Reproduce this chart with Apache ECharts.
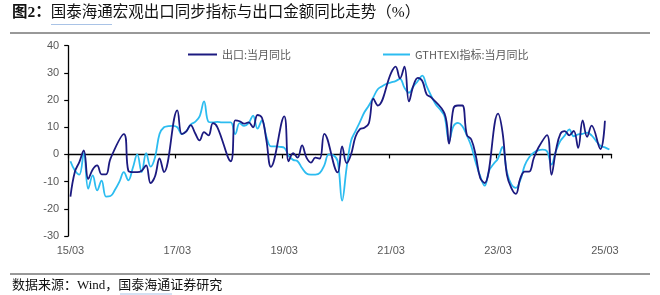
<!DOCTYPE html>
<html><head><meta charset="utf-8">
<script src="https://cdn.jsdelivr.net/npm/echarts@6/dist/echarts.min.js"></script>
<style>html,body{margin:0;padding:0;background:#fff}#c{width:660px;height:295px}</style>
</head><body><div id="c"></div>
<script>
// ---- categories (monthly, 2015-03 .. 2025-04) ----
const categories = [
 '15/03','15/04','15/05','15/06','15/07','15/08','15/09','15/10','15/11','15/12',
 '16/01','16/02','16/03','16/04','16/05','16/06','16/07','16/08','16/09','16/10','16/11','16/12',
 '17/01','17/02','17/03','17/04','17/05','17/06','17/07','17/08','17/09','17/10','17/11','17/12',
 '18/01','18/02','18/03','18/04','18/05','18/06','18/07','18/08','18/09','18/10','18/11','18/12',
 '19/01','19/02','19/03','19/04','19/05','19/06','19/07','19/08','19/09','19/10','19/11','19/12',
 '20/01','20/02','20/03','20/04','20/05','20/06','20/07','20/08','20/09','20/10','20/11','20/12',
 '21/01','21/02','21/03','21/04','21/05','21/06','21/07','21/08','21/09','21/10','21/11','21/12',
 '22/01','22/02','22/03','22/04','22/05','22/06','22/07','22/08','22/09','22/10','22/11','22/12',
 '23/01','23/02','23/03','23/04','23/05','23/06','23/07','23/08','23/09','23/10','23/11','23/12',
 '24/01','24/02','24/03','24/04','24/05','24/06','24/07','24/08','24/09','24/10','24/11','24/12',
 '25/01','25/02','25/03','25/04'
];
// ---- 出口:当月同比 (%) ----
const exportYoY = [
 -15.5,-6.4,-2.8,1.5,-9,-5.5,-4,-7.3,-7.3,-1.5,
 null,null,7.5,-6,-6.5,-6.5,-6,-4,-10.5,-8,-1.5,-6.5,
 null,null,16.2,7.5,8.5,10.8,7.8,5.2,8.2,7,11.5,10,
 null,null,-2.5,12.5,12.2,11.3,11.8,10,14.5,13.5,5.2,-4.6,
 null,null,14,-2.5,0.5,-1.2,3.3,-1.2,-3,-1.2,-1.5,7.6,
 null,null,-6.6,3,-3.2,0,6.5,9.3,9.8,11.5,20.5,18,
 null,null,30,32.3,28,32.3,19.5,25.3,28.2,27,22,21,
 null,null,15,4,17,18,18,7.2,5.5,-0.4,-8.7,-10.5,
 null,null,15,8.3,-7.5,-12.4,-14.5,-8.8,-6.3,-6.3,-1.5,2.3,
 null,7.1,-7.5,1.5,7.6,8.6,7,8.7,2.4,12.5,6.5,10.6,
 null,2,12.4,null
];
// ---- GTHTEXI指标:当月同比 (%) ----
const gthtexi = [
 -2.5,-5.9,-7.4,0.5,-12.6,-7.7,-13.2,-9.6,-15.5,-15.3,
 -13,-10,-6.5,-9.5,-5,0,-6.5,0.5,-4.5,-1,7.5,10,
 10.4,10.5,10,7.5,8.5,11,12,14,19.5,12,11.8,12,
 11.8,11.8,11.8,7.5,11.5,10.5,11.5,14.3,9.5,12.5,6.5,3,
 3,2.8,2.5,-0.5,-2,-2.5,-5,-7,-7.4,-7.4,-6.8,-4,
 0,-0.3,-2.5,-17,-5,5,8.6,12,15.5,18,21,24,
 25.1,26,26.5,27,27.8,24.5,22.7,25,27,29,25,21.5,
 18.5,16.5,14,5,10.4,11.6,10.4,7,3,-3,-8,-11.5,
 -6,-3.5,-1.5,2.8,-6.5,-11,-12.3,-9.5,-4,-1,0.6,1.5,
 1.8,1.2,-3.7,1.2,5,7,9.2,6.7,7.4,7.6,8,7,
 5,3.2,2.6,1.8
];
const seriesNames = ['出口:当月同比','GTHTEXI指标:当月同比'];
const yMin = -30, yMax = 40, yStep = 10;
const xLabelEvery = 24; // 15/03, 17/03, ... 25/03

const chart = echarts.init(document.getElementById('c'), null, {renderer:'canvas'});
const sansLatin = '"Liberation Sans", Arial, "Noto Sans CJK SC", sans-serif';
const serifMix = '"Liberation Serif", "Times New Roman", "Noto Sans CJK SC", serif';
const legendText = {fontSize:11, color:'#595959', fontFamily:'"Noto Sans CJK SC", "Liberation Sans", sans-serif'};
chart.setOption({
  animation:false,
  backgroundColor:'#fff',
  grid:{left:68.2, top:45.7, width:543.4, height:190.3, containLabel:false},
  legend:[
    {data:[seriesNames[0]], left:183, top:44, icon:'rect', itemWidth:29, itemHeight:2, textStyle:legendText},
    {data:[seriesNames[1]], left:378, top:44, icon:'rect', itemWidth:27, itemHeight:2, textStyle:legendText}
  ],
  xAxis:[
    {type:'category', data:categories, boundaryGap:true, position:'bottom',
     axisLine:{show:false, onZero:false}, axisTick:{show:false},
     axisLabel:{interval:xLabelEvery-1, margin:9, fontSize:11, color:'#595959', fontFamily:sansLatin},
     splitLine:{show:false}},
    {type:'category', data:categories, boundaryGap:true, position:'top',
     axisLine:{show:true, onZero:true, onZeroAxisIndex:0, lineStyle:{color:'#000', width:1.3}},
     axisTick:{show:true, inside:true, interval:xLabelEvery-1, length:4, lineStyle:{color:'#000', width:1.2}},
     axisLabel:{show:false}, splitLine:{show:false}}
  ],
  yAxis:{type:'value', min:yMin, max:yMax, interval:yStep,
    axisLine:{show:true, lineStyle:{color:'#000', width:1.3}},
    axisTick:{show:true, length:4, lineStyle:{color:'#000', width:1.2}},
    axisLabel:{margin:9, fontSize:11, color:'#595959', fontFamily:sansLatin},
    splitLine:{show:false}},
  series:[
    {name:seriesNames[1], type:'line', data:gthtexi, xAxisIndex:0, smooth:0.4, connectNulls:true,
     showSymbol:false, symbol:'none', color:'#2cbcf0', lineStyle:{color:'#2cbcf0', width:1.8}, z:2},
    {name:seriesNames[0], type:'line', data:exportYoY, xAxisIndex:0, smooth:0.4, connectNulls:true,
     showSymbol:false, symbol:'none', color:'#1c1a80', lineStyle:{color:'#1c1a80', width:1.8}, z:3}
  ],
  graphic:[
    {type:'text', left:12, top:5, style:{
      text:'{b|图2：}{n|国泰海通宏观出口同步指标与出口金额同比走势（%）}',
      rich:{
        b:{fontSize:15.5, fontWeight:'bold', fill:'#111', fontFamily:serifMix},
        n:{fontSize:15.5, fill:'#111', fontFamily:serifMix}
      }}},
    {type:'line', shape:{x1:51, y1:24.5, x2:112, y2:24.5}, style:{stroke:'#a9c3e6', lineWidth:1}},
    {type:'line', shape:{x1:10, y1:33, x2:650, y2:33}, style:{stroke:'#333', lineWidth:1}},
    {type:'line', shape:{x1:10, y1:274, x2:650, y2:274}, style:{stroke:'#333', lineWidth:1}},
    {type:'text', left:12, top:279, style:{text:'数据来源：Wind，国泰海通证券研究', fontSize:13, fill:'#111', fontFamily:serifMix}},
    {type:'line', shape:{x1:120, y1:294, x2:172, y2:294}, style:{stroke:'#a9c3e6', lineWidth:1}}
  ]
});
</script>
</body></html>
